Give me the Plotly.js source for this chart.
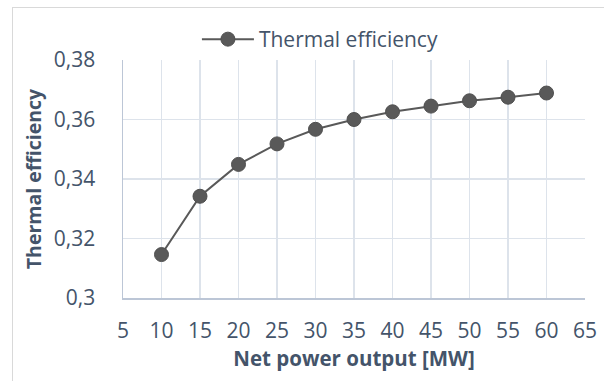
<!DOCTYPE html>
<html>
<head>
<meta charset="utf-8">
<script src="https://cdn.plot.ly/plotly-3.0.1.min.js"></script>
<style>
  html, body { margin: 0; padding: 0; width: 604px; height: 381px; overflow: hidden; background: #fff; }
  #chart { position: absolute; left: 0; top: 0; width: 604px; height: 381px; }
  #frame { position: absolute; left: 12px; top: 7px; width: 700px; height: 500px; border: 1px solid #D9D9D9; pointer-events: none; }
</style>
</head>
<body>
<div id="chart"></div>
<div id="frame"></div>
<script>
const netPower = [10, 15, 20, 25, 30, 35, 40, 45, 50, 55, 60];
const thermalEfficiency = [0.3146, 0.3342, 0.3449, 0.3518, 0.3567, 0.3600, 0.3626, 0.3645, 0.3663, 0.3675, 0.3689];
const xTickVals = [5, 10, 15, 20, 25, 30, 35, 40, 45, 50, 55, 60, 65];
const yTickVals = [0.30, 0.32, 0.34, 0.36, 0.38];
const yTickText = ['0,3', '0,32', '0,34', '0,36', '0,38'];
const seriesName = 'Thermal efficiency';
const xTitle = 'Net power output [MW]';
const yTitle = 'Thermal efficiency';

const textColor = '#44546A';
const font = 'Open Sans, sans-serif';

const trace = {
  x: netPower,
  y: thermalEfficiency,
  name: seriesName,
  type: 'scatter',
  mode: 'lines+markers',
  line: { color: '#595959', width: 2 },
  marker: { color: '#595959', size: 14, line: { color: '#505050', width: 1 } },
  showlegend: true
};

const layout = {
  width: 604,
  height: 381,
  margin: { l: 123, r: 18.5, t: 60, b: 83.3 },
  paper_bgcolor: 'rgba(0,0,0,0)',
  plot_bgcolor: '#ffffff',
  font: { family: font, size: 21, color: textColor },
  showlegend: true,
  legend: {
    orientation: 'h',
    x: 0.16, xanchor: 'left',
    y: 1.0, yanchor: 'bottom',
    itemwidth: 52,
    font: { family: font, size: 21, color: textColor },
    bgcolor: 'rgba(0,0,0,0)'
  },
  xaxis: {
    range: [5, 65],
    tickvals: xTickVals,
    ticktext: xTickVals.map(String),
    showgrid: true,
    gridcolor: '#DDE3EB',
    gridwidth: 1.5,
    showline: true,
    linecolor: '#BCC6D6',
    linewidth: 1.5,
    zeroline: false,
    ticks: 'outside',
    ticklen: 13,
    tickcolor: 'rgba(0,0,0,0)',
    tickfont: { family: font, size: 21, color: textColor },
    title: { text: xTitle, font: { family: font, size: 20.5, color: textColor, weight: 'bold' }, standoff: 8 }
  },
  yaxis: {
    range: [0.30, 0.38],
    tickvals: yTickVals,
    ticktext: yTickText,
    showgrid: true,
    gridcolor: '#DDE3EB',
    gridwidth: 1.5,
    showline: true,
    linecolor: '#BCC6D6',
    linewidth: 1.5,
    zeroline: false,
    ticks: 'outside',
    ticklen: 22,
    tickcolor: 'rgba(0,0,0,0)',
    tickfont: { family: font, size: 21, color: textColor },
    title: { text: yTitle, font: { family: font, size: 19.5, color: textColor, weight: 'bold' }, standoff: 7 }
  }
};

Plotly.newPlot('chart', [trace], layout, { displayModeBar: false, staticPlot: true });
</script>
</body>
</html>
